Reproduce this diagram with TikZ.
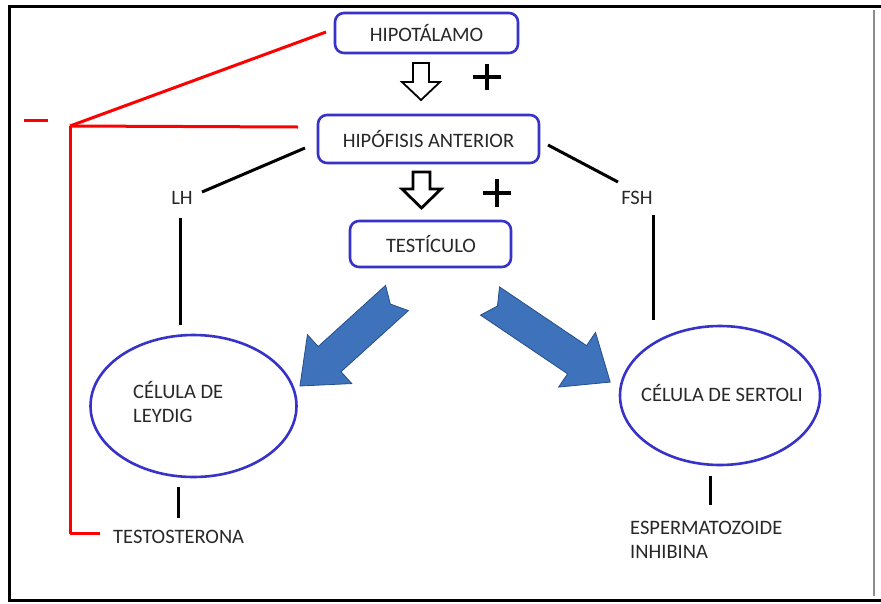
\documentclass[tikz,border=0pt]{standalone}
\usepackage{fontspec}
\setmainfont{Carlito}
\usetikzlibrary{shapes.geometric}
\definecolor{boxblue}{RGB}{55,50,200}
\definecolor{arrblue}{RGB}{62,114,186}
\definecolor{arrdark}{RGB}{38,78,138}
\definecolor{txt}{RGB}{40,40,40}
\begin{document}
\begin{tikzpicture}[x=1pt,y=-1pt,
  every node/.style={font=\fontsize{20.5}{25}\selectfont, text=txt, inner sep=0pt},
  organbox/.style={draw=boxblue, line width=2.6pt, rounded corners=9pt, fill=white},
  cellell/.style={draw=boxblue, line width=2.6pt, ellipse},
  blk/.style={draw=black, line width=3pt},
  inhib/.style={draw=red, line width=3pt},
  hollow/.style={draw=black, fill=white, line join=miter},
  bluearr/.style={fill=arrblue, draw=arrdark, line width=0.8pt, line join=miter},
  plusmark/.style={draw=black, line width=4.5pt}]
\useasboundingbox (0,0) rectangle (881,603);
% frame
\draw[line width=3pt] (881,6) -- (9,6) -- (9,600) -- (881,600);
\draw[black!45, line width=1.2pt] (874,10) -- (874,596);

% organ boxes
\node[organbox, minimum width=183pt, minimum height=40pt] (hip) at (426.5,33) {HIPOTÁLAMO};
\node[organbox, minimum width=221pt, minimum height=48pt] (hipo) at (428.5,139) {HIPÓFISIS ANTERIOR};
\node[organbox, minimum width=161pt, minimum height=46pt, text width=141pt, align=left] (test) at (430.5,244) {\hspace*{26pt}TESTÍCULO};

% hollow arrows
\draw[hollow, line width=1.8pt] (413,63) -- (429,63) -- (429,82) -- (440,82) -- (421,100) -- (402,82) -- (413,82) -- cycle;
\draw[hollow, line width=2.8pt] (413,172) -- (430,172) -- (430,189) -- (441,189) -- (421.5,208) -- (402,189) -- (413,189) -- cycle;

% plus signs
\draw[plusmark] (473,77) -- (501,77) (487,64) -- (487,90);
\draw[plusmark] (483,193) -- (511,193) (497,179) -- (497,207);

% hormone labels
\node (lh) at (182,198) {LH};
\node (fsh) at (637,198) {FSH};

% cells
\node[cellell, minimum width=206pt, minimum height=142pt] (leydig) at (193.5,406) {};
\node[anchor=west, align=left] (leydigtxt) at (133,402) {CÉLULA DE\\[-1pt]LEYDIG};
\node[cellell, minimum width=200pt, minimum height=139pt] (sertoli) at (720,395.5) {};
\node (sertolitxt) at (722,393) {CÉLULA DE SERTOLI};

% products
\node[anchor=west] (testo) at (113,537) {TESTOSTERONA};
\node[anchor=west, align=left] (esper) at (630,540) {ESPERMATOZOIDE\\[-1pt]INHIBINA};

% black connectors
\coordinate (hipoL) at (305,148);
\coordinate (lhT) at (202,192);
\coordinate (hipoR) at (548,145);
\coordinate (fshT) at (618,182);
\draw[blk] (hipoL) -- (lhT);
\draw[blk] (hipoR) -- (fshT);
\coordinate (lhB) at (180,218);
\coordinate (leyT) at (180,325);
\draw[blk] (lhB) -- (leyT);
\coordinate (fshB) at (653,215);
\coordinate (serT) at (653,320);
\draw[blk] (fshB) -- (serT);
\coordinate (leyB) at (178,487);
\coordinate (testoT) at (178,518);
\draw[blk] (leyB) -- (testoT);
\coordinate (serB) at (710,476);
\coordinate (esperT) at (710,505);
\draw[blk] (serB) -- (esperT);

% red inhibition lines
\coordinate (jn) at (70,126);
\coordinate (hipEnd) at (326,32);
\coordinate (hipoEnd) at (298,127);
\coordinate (corner) at (70,533);
\coordinate (testoEnd) at (100,533);
\draw[inhib] (jn) -- (hipEnd);
\draw[inhib] (jn) -- (hipoEnd);
\draw[inhib, line join=round] (jn) -- (corner) -- (testoEnd);
\draw[inhib] (24,120) -- (48,120);

% blue block arrows
\begin{scope}[shift={(397,298)}, rotate=222.2]
\draw[bluearr] (0,17) -- (91,17) -- (91,33) -- (131,0) -- (91,-33) -- (91,-17) -- (0,-17) -- (9,0) -- cycle;
\end{scope}
\begin{scope}[shift={(490,301)}, rotate=-34]
\draw[bluearr] (0,17) -- (105,17) -- (105,33) -- (145,0) -- (105,-33) -- (105,-17) -- (0,-17) -- (9,0) -- cycle;
\end{scope}
\end{tikzpicture}
\end{document}
